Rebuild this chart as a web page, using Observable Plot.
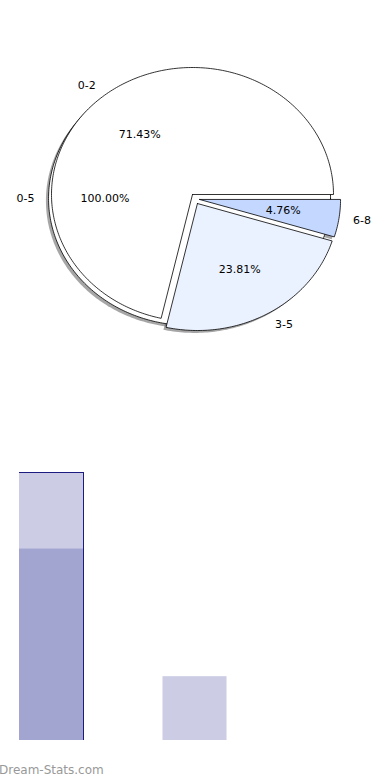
<!DOCTYPE html>
<html><head><meta charset="utf-8">
<script src="https://cdn.jsdelivr.net/npm/d3@7"></script>
<script src="https://cdn.jsdelivr.net/npm/@observablehq/plot@0.6"></script>
<style>
body{margin:0;background:#fff;font-family:"DejaVu Sans",sans-serif;}
#pie,#bar{display:block;line-height:0}
#wm{height:30px;box-sizing:border-box;padding-top:13px;padding-left:0;margin-left:-1px;font-size:12px;line-height:14px;color:#999;font-family:"DejaVu Sans",sans-serif;}
</style>
</head><body>
<div id="pie"></div><div id="bar"></div><div id="wm">Dream-Stats.com</div>
<script>
// ---- data ----
const outerLabels = ["0-5"];
const outerValues = [21];
const innerLabels = ["0-2", "3-5", "6-8"];
const innerValues = [15, 5, 1];
const barTotals = [21, 5];
const barInner = [15, 0];

// ---- style ----
const outerFills = ["#ffffff"];
const innerFills = ["#ffffff", "#ebf2ff", "#c4d7fe"];
const outerOffset = [[-0.021, -0.031]];
const innerOffset = [[0, 0], [0.035, -0.071], [0.05, -0.039]];

function buildPie(labels, values, offsets, prefix) {
  const total = d3.sum(values);
  let cum = 0;
  const slices = [];
  values.forEach((v, i) => {
    const a0 = cum / total * 2 * Math.PI;
    const a1 = (cum + v) / total * 2 * Math.PI;
    cum += v;
    const [ox, oy] = offsets[i];
    const full = v === total;
    const n = Math.max(2, Math.ceil((a1 - a0) / (Math.PI / 180)));
    const pts = [];
    if (!full) pts.push({x: ox, y: oy});
    for (let j = 0; j <= n; j++) {
      const a = a0 + (a1 - a0) * j / n;
      pts.push({x: ox + Math.cos(a), y: oy + Math.sin(a)});
    }
    if (!full) pts.push({x: ox, y: oy});
    const mid = (a0 + a1) / 2;
    slices.push({
      key: prefix + i, pts,
      label: labels[i],
      pct: (v / total * 100).toFixed(2) + "%",
      lx: ox + 1.1 * Math.cos(mid), ly: oy + 1.1 * Math.sin(mid),
      px: ox + 0.6 * Math.cos(mid), py: oy + 0.6 * Math.sin(mid),
      right: Math.cos(mid) >= 0
    });
  });
  return slices;
}

const outer = buildPie(outerLabels, outerValues, outerOffset, "o");
const inner = buildPie(innerLabels, innerValues, innerOffset, "i");
const all = [...outer, ...inner];
const fills = [...outerFills, ...innerFills];

const shadowMarks = all.map(s => Plot.line(s.pts, {x: "x", y: "y", fill: "#4d4d4d", fillOpacity: 0.5, stroke: "none", dx: -2.6, dy: 2.4}));
const wedgeMarks = all.map((s, i) => Plot.line(s.pts, {x: "x", y: "y", fill: fills[i], stroke: "#000", strokeWidth: 0.8, strokeLinejoin: "miter"}));

const pie = Plot.plot({
  width: 390, height: 400, margin: 0,
  style: {fontFamily: "DejaVu Sans", fontSize: "11px", background: "#fff"},
  x: {domain: [-1, 1], range: [51, 333], axis: null},
  y: {domain: [-1, 1], range: [321, 67], axis: null},
  marks: [
    ...shadowMarks,
    ...wedgeMarks,
    Plot.text(all.filter(d => !d.right), {x: "lx", y: "ly", text: "label", textAnchor: "end", fill: "#000", fontSize: 11}),
    Plot.text(all.filter(d => d.right), {x: "lx", y: "ly", text: "label", textAnchor: "start", fill: "#000", fontSize: 11}),
    Plot.text(all, {x: "px", y: "py", text: "pct", textAnchor: "middle", fill: "#000", fontSize: 11})
  ]
});
document.getElementById("pie").appendChild(pie);

// ---- bars ----
const hw = 0.223;
const bars = barTotals.map((t, i) => ({i, total: t, inner: barInner[i]}));
const bar = Plot.plot({
  width: 390, height: 350, margin: 0,
  style: {background: "#fff"},
  x: {domain: [0, 2], range: [51, 338], axis: null},
  y: {domain: [0, 21], range: [340, 72], axis: null},
  marks: [
    Plot.rect(bars, {x1: d => d.i - hw, x2: d => d.i + hw, y1: 0, y2: "total", fill: "#cccce5"}),
    Plot.rect(bars.filter(d => d.inner > 0), {x1: d => d.i - hw, x2: d => d.i + hw, y1: 0, y2: "inner", fill: "#a3a5d1"}),
    Plot.ruleY(bars.filter(d => d.inner > 0), {y: "total", x1: d => d.i - hw, x2: d => d.i + hw, stroke: "#1c1c80", strokeWidth: 1}),
    Plot.ruleX(bars.filter(d => d.inner > 0), {x: d => d.i + hw, y1: 0, y2: "total", stroke: "#1c1c80", strokeWidth: 1})
  ]
});
document.getElementById("bar").appendChild(bar);
</script>
</body></html>
